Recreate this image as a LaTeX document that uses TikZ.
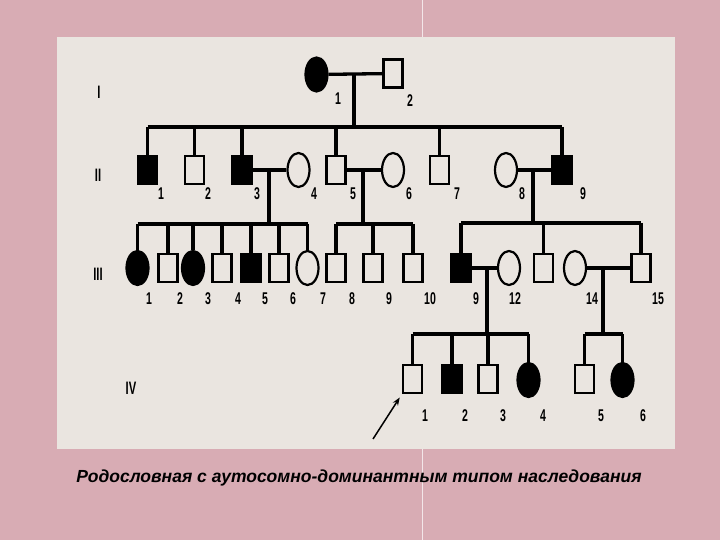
\documentclass[tikz,border=0pt]{standalone}
\usepackage{fontspec}
\setmainfont{Liberation Sans}
\newfontfamily\lblfont[FakeStretch=0.62]{Liberation Sans}
\usetikzlibrary{arrows.meta,positioning,calc,shapes.geometric}
\definecolor{bgpink}{RGB}{216,172,180}
\definecolor{panel}{RGB}{234,229,224}

\begin{document}
\begin{tikzpicture}[x=1pt, y=-1pt,
    male/.style={draw, line width=2.2pt, minimum width=19pt, minimum height=28pt, inner sep=0pt},
    female/.style={draw, ellipse, line width=2.2pt, minimum width=22pt, minimum height=34pt, inner sep=0pt},
    aff/.style={fill=black},
    wire/.style={line width=3.3pt},
    num/.style={font=\lblfont\bfseries\fontsize{17}{17}\selectfont},
    gen/.style={font=\lblfont\bfseries\fontsize{18}{18}\selectfont}
  ]
  \useasboundingbox (0,0) rectangle (720,540);
  \fill[bgpink] (0,0) rectangle (720,540);
  \fill[panel] (57,37) rectangle (675,449);
  \draw[white!70!bgpink, line width=0.8pt] (422,0) -- (422,37) (422,449) -- (422,540);

  % generation labels
  \node[gen] (gI) at (99,92) {I};
  \node[gen] (gII) at (98,175) {II};
  \node[gen] (gIII) at (98,274) {III};
  \node[gen] (gIV) at (131,388) {IV};

  % I
  \node[female,aff] (I1) at (316.5,74.5) {};
  \node[male] (I2) at (393,73.5) {};

  % II
  \node[male,aff] (II1) at (147.5,170) {};
  \node[male] (II2) at (194.5,170) {};
  \node[male,aff] (II3) at (242,170) {};
  \node[female] (II4) at (298.5,170) {};
  \node[male] (II5) at (336,170) {};
  \node[female] (II6) at (393,170) {};
  \node[male] (II7) at (439.5,170) {};
  \node[female] (II8) at (506,170) {};
  \node[male,aff] (II9) at (562,170) {};

  % III
  \node[female,aff] (III1) at (137.5,268) {};
  \node[male] (III2) at (168,268) {};
  \node[female,aff] (III3) at (193,268) {};
  \node[male] (III4) at (222,268) {};
  \node[male,aff] (III5) at (251,268) {};
  \node[male] (III6) at (279,268) {};
  \node[female] (III7) at (307.5,268) {};
  \node[male] (III8) at (336,268) {};
  \node[male] (III9) at (373,268) {};
  \node[male] (III10) at (413,268) {};
  \node[male,aff] (III11) at (461,268) {};
  \node[female] (III12) at (509,268) {};
  \node[male] (III13) at (543.5,268) {};
  \node[female] (III14) at (575,268) {};
  \node[male] (III15) at (641,268) {};

  % IV
  \node[male] (IV1) at (412.5,379) {};
  \node[male,aff] (IV2) at (452,379) {};
  \node[male] (IV3) at (488,379) {};
  \node[female,aff] (IV4) at (528.5,380) {};
  \node[male] (IV5) at (584.5,379) {};
  \node[female,aff] (IV6) at (622.5,380) {};

  % marriages
  \draw[wire] (I1) -- (I2);
  \draw[wire] (II3) -- (II4);
  \draw[wire] (II5) -- (II6);
  \draw[wire] (II8) -- (II9);
  \draw[wire] (III11) -- (III12);
  \draw[wire] (III14) -- (III15);

  % sibships
  \coordinate (s1) at (354,127);
  \coordinate (s2) at (269,224);
  \coordinate (s3) at (363,224);
  \coordinate (s4) at (533,223);
  \coordinate (s5) at (487,334);
  \coordinate (s6) at (603,334);
  \draw[wire] (s1 |- I2) -- (s1);
  \draw[wire] (s2 |- II3) -- (s2);
  \draw[wire] (s3 |- II5) -- (s3);
  \draw[wire] (s4 |- II9) -- (s4);
  \draw[wire] (s5 |- III11) -- (s5);
  \draw[wire] (s6 |- III15) -- (s6);
  \draw[wire] (II1 |- s1) -- (II9 |- s1);
  \draw[wire] (III1 |- s2) -- (III7 |- s2);
  \draw[wire] (III8 |- s3) -- (III10 |- s3);
  \draw[wire] (III11 |- s4) -- (III15 |- s4);
  \draw[wire] (IV1 |- s5) -- (IV4 |- s5);
  \draw[wire] (IV5 |- s6) -- (IV6 |- s6);
  \foreach \c in {II1,II2,II3,II5,II7,II9}
    \draw[wire] (\c |- s1) -- (\c.north);
  \foreach \c in {III1,III2,III3,III4,III5,III6,III7}
    \draw[wire] (\c |- s2) -- (\c.north);
  \foreach \c in {III8,III9,III10}
    \draw[wire] (\c |- s3) -- (\c.north);
  \foreach \c in {III11,III13,III15}
    \draw[wire] (\c |- s4) -- (\c.north);
  \foreach \c in {IV1,IV2,IV3,IV4}
    \draw[wire] (\c |- s5) -- (\c.north);
  \foreach \c in {IV5,IV6}
    \draw[wire] (\c |- s6) -- (\c.north);

  % numbers
  \node[num] (nI1) at (338,99) {1};
  \node[num] (nI2) at (410,101) {2};
  \foreach \x/\t [count=\i] in {161/1,208/2,257/3,314/4,353/5,409/6,457/7,522/8,583/9}
    \node[num] (nII\i) at (\x,194) {\t};
  \foreach \x/\t [count=\i] in {149/1,180/2,208/3,238/4,265/5,293/6,323/7,352/8,389/9,430/10,476/9,515/12,592/14,658/15}
    \node[num] (nIII\i) at (\x,299) {\t};
  \foreach \x/\t [count=\i] in {425/1,465/2,503/3,543/4,601/5,643/6}
    \node[num] (nIV\i) at (\x,416) {\t};

  % proband
  \coordinate (prb) at (373,439);
  \draw[line width=1.5pt, -{Stealth[length=8pt,width=6pt]}, shorten >=4pt] (prb) -- (IV1.south west);

  \node[font=\bfseries\itshape\fontsize{17.5}{17.5}\selectfont] (cap) at (359,478) {Родословная с аутосомно-доминантным типом наследования};
\end{tikzpicture}
\end{document}
